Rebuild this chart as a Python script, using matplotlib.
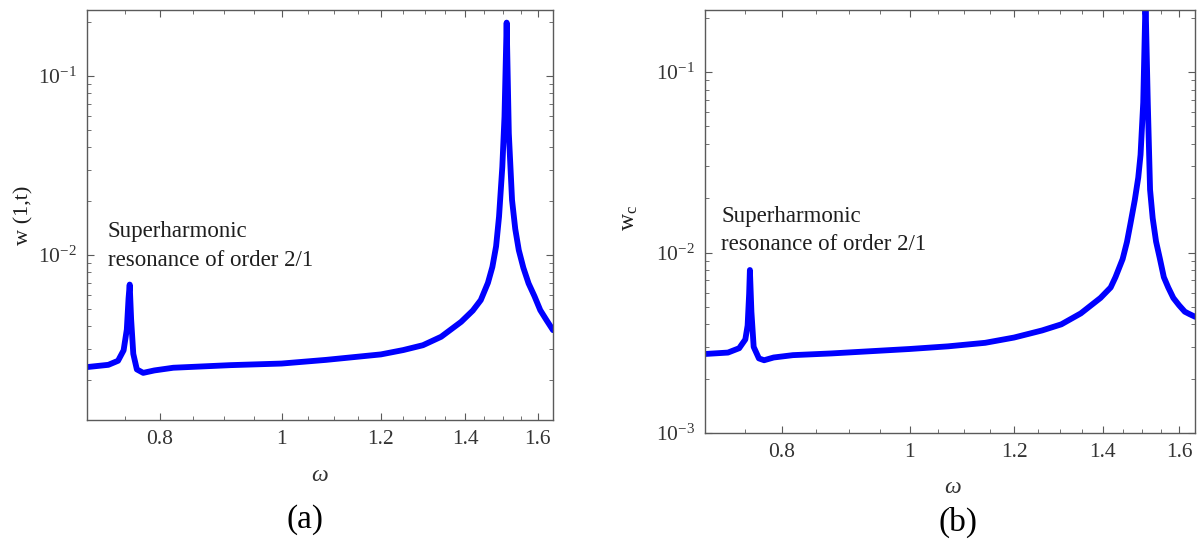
import matplotlib

matplotlib.use("Agg")
import matplotlib.pyplot as plt
import numpy as np
from matplotlib.ticker import FixedLocator, NullFormatter

# --- Daten ---
omega_a = [0.700, 0.728, 0.741, 0.7486, 0.753, 0.7554, 0.757, 0.759, 0.762, 0.767,
           0.776, 0.792, 0.820, 0.911, 1.000, 1.085, 1.200, 1.250, 1.296, 1.340,
           1.390, 1.420, 1.441, 1.460, 1.472, 1.482, 1.490, 1.499, 1.505, 1.511,
           1.517, 1.526, 1.535, 1.545, 1.558, 1.573, 1.590, 1.607, 1.625, 1.645]
w_a = [0.00237, 0.00244, 0.00257, 0.00294, 0.00384, 0.00573, 0.00685, 0.00438, 0.00281, 0.00230,
       0.00220, 0.00227, 0.00235, 0.00243, 0.00248, 0.00260, 0.00279, 0.00295, 0.00314, 0.00350,
       0.00424, 0.00490, 0.00561, 0.00700, 0.00860, 0.0112, 0.0164, 0.0311, 0.0593, 0.199,
       0.0479, 0.0203, 0.0140, 0.01066, 0.00850, 0.00695, 0.00590, 0.00493, 0.00435, 0.00381]

omega_b = [0.700, 0.7286, 0.743, 0.751, 0.754, 0.756, 0.757, 0.759, 0.762, 0.769,
           0.776, 0.789, 0.816, 0.873, 1.000, 1.069, 1.141, 1.200, 1.260, 1.303,
           1.348, 1.395, 1.420, 1.432, 1.450, 1.461, 1.470, 1.481, 1.490, 1.496,
           1.503, 1.509, 1.515, 1.521, 1.528, 1.537, 1.547, 1.558, 1.570, 1.584,
           1.600, 1.616, 1.630, 1.646]
w_b = [0.00274, 0.00279, 0.00295, 0.0033, 0.00394, 0.0059, 0.0080, 0.0047, 0.0030, 0.00259,
       0.00253, 0.00262, 0.0027, 0.00276, 0.00292, 0.00302, 0.00316, 0.00338, 0.0037, 0.0040,
       0.0046, 0.0056, 0.0064, 0.0073, 0.0092, 0.01145, 0.0145, 0.0195, 0.026, 0.0348,
       0.0676, 0.25, 0.0676, 0.0223, 0.0155, 0.0115, 0.0093, 0.0073, 0.0064, 0.0056,
       0.0051, 0.0047, 0.00455, 0.0044]

x_ticks = [0.8, 1.0, 1.2, 1.4, 1.6]
x_ticklabels = ["0.8", "1", "1.2", "1.4", "1.6"]
annotation_lines = ["Superharmonic", "resonance of order 2/1"]

plt.rcParams["font.family"] = ["Liberation Serif", "DejaVu Serif"]
plt.rcParams["mathtext.fontset"] = "custom"
plt.rcParams["mathtext.rm"] = "Liberation Serif"
plt.rcParams["mathtext.it"] = "Liberation Serif:italic"
plt.rcParams["axes.unicode_minus"] = False

GRAU = "#5a5a5a"
TEXT = "#333333"

fig = plt.figure(figsize=(12.04, 5.44), dpi=100)
ax_a = fig.add_axes([87 / 1204, 124 / 544, 466 / 1204, 410 / 544])
ax_b = fig.add_axes([705 / 1204, 111 / 544, 490 / 1204, 423 / 544])


def style_axis(ax, ylim):
    ax.set_xscale("log")
    ax.set_yscale("log")
    ax.set_xlim(0.70, 1.645)
    ax.set_ylim(*ylim)
    ax.xaxis.set_major_locator(FixedLocator(x_ticks))
    ax.set_xticklabels(x_ticklabels)
    minors = [m for m in np.round(np.arange(0.70, 1.65, 0.05), 2) if m not in x_ticks]
    ax.xaxis.set_minor_locator(FixedLocator(minors))
    ax.xaxis.set_minor_formatter(NullFormatter())
    ax.tick_params(which="both", direction="in", top=True, right=True,
                   color=GRAU, labelcolor=TEXT, labelsize=15.5)
    ax.tick_params(which="major", length=5, pad=7)
    ax.tick_params(which="minor", length=3)
    for s in ax.spines.values():
        s.set_color(GRAU)
        s.set_linewidth(1.0)


def annotate(ax, x, y_first, y_second):
    # zwei Zeilen, jeweils an der Grundlinie ausgerichtet
    for line, y in zip(annotation_lines, (y_first, y_second)):
        ax.text(x, y, line, transform=ax.transAxes, ha="left", va="baseline",
                fontsize=16.5, color="#1e1e1e")


for ax, om, w, ylim in ((ax_a, omega_a, w_a, (1.2e-3, 0.234)),
                        (ax_b, omega_b, w_b, (1e-3, 0.2206))):
    style_axis(ax, ylim)
    ax.plot(om, w, color="#0000ff", lw=4.2, solid_capstyle="round", solid_joinstyle="round")

annotate(ax_a, 0.045, (420 - 237) / 410, (420 - 266) / 410)
annotate(ax_b, 0.033, (433 - 222) / 423, (433 - 250) / 423)

ax_a.set_xlabel("ω", fontsize=17, style="italic", color=TEXT, va="center")
ax_a.xaxis.set_label_coords(0.5, -0.135)
ax_b.set_xlabel("ω", fontsize=17, style="italic", color=TEXT, va="center")
ax_b.xaxis.set_label_coords(0.506, -0.128)

ax_a.set_ylabel("w (1,t)", fontsize=16, color="#1e1e1e", va="center")
ax_a.yaxis.set_label_coords(-0.135, 0.5)
ax_b.set_ylabel(r"w$_{\mathregular{c}}$", fontsize=17, color="#1e1e1e", va="center")
ax_b.yaxis.set_label_coords(-0.155, 0.508)

fig.text(305 / 1204, 1 - 520 / 544, "(a)", fontsize=24, ha="center", va="center")
fig.text(958 / 1204, 1 - 522 / 544, "(b)", fontsize=24, ha="center", va="center")

fig.savefig("out.png", dpi=100)
